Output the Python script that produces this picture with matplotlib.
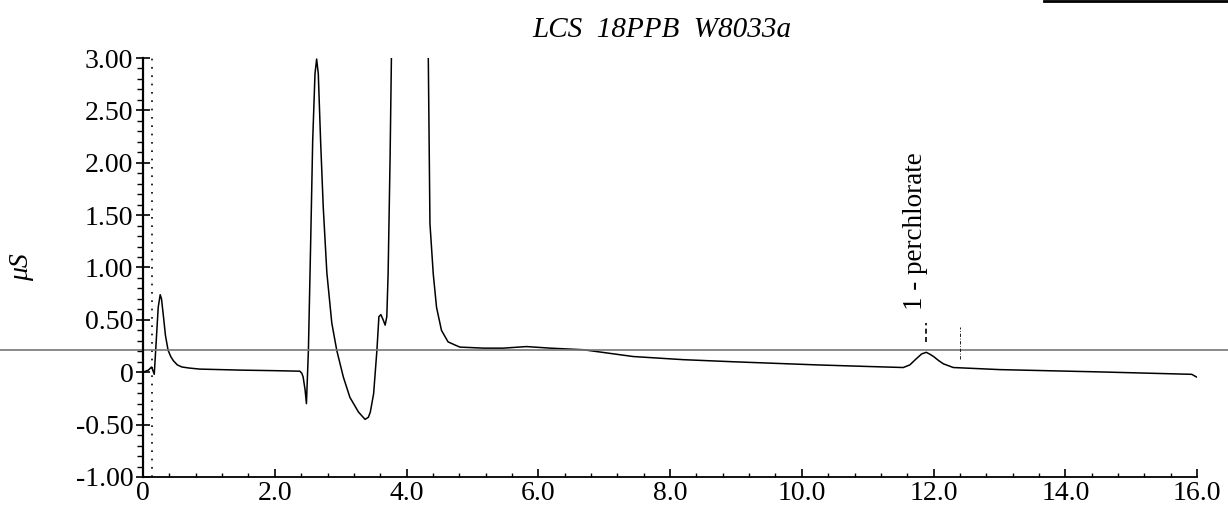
import numpy as np
import matplotlib.pyplot as plt
from matplotlib.lines import Line2D
from matplotlib.ticker import MultipleLocator

# conductivity trace (min, uS)
t = [0.0, 0.08, 0.13, 0.17, 0.20, 0.23, 0.26, 0.28, 0.31, 0.34, 0.38, 0.42, 0.46, 0.52,
     0.59, 0.70, 0.86, 1.5, 2.0, 2.38, 2.41, 2.43, 2.46, 2.48, 2.51, 2.545, 2.575,
     2.61, 2.635, 2.66, 2.695, 2.735, 2.79, 2.865, 2.94, 3.04, 3.14, 3.27, 3.37,
     3.42, 3.45, 3.50, 3.55, 3.58, 3.61, 3.645, 3.675, 3.70, 3.72, 3.75, 3.77, 3.85,
     4.20, 4.33, 4.355, 4.405, 4.455, 4.53, 4.63, 4.735, 4.81, 5.17, 5.47, 5.82,
     6.18, 6.68, 7.44, 8.20, 8.96, 10.23, 11.0, 11.54, 11.64, 11.74, 11.82, 11.89,
     11.95, 12.00, 12.08, 12.15, 12.30, 13.01, 14.53, 15.92, 15.99]
y = [0.0, 0.02, 0.05, -0.02, 0.30, 0.62, 0.74, 0.70, 0.53, 0.35, 0.21, 0.15, 0.11, 0.07,
     0.05, 0.04, 0.03, 0.02, 0.015, 0.01, -0.01, -0.045, -0.17, -0.30, 0.21, 1.26, 2.21,
     2.85, 2.99, 2.85, 2.21, 1.58, 0.95, 0.47, 0.21, -0.045, -0.24, -0.38, -0.45,
     -0.43, -0.38, -0.205, 0.21, 0.53, 0.55, 0.50, 0.45, 0.53, 0.94, 2.05, 3.0, 8.0,
     8.0, 3.0, 1.42, 0.94, 0.62, 0.40, 0.29, 0.26, 0.24, 0.23, 0.23, 0.245,
     0.23, 0.215, 0.15, 0.12, 0.10, 0.07, 0.055, 0.045, 0.07, 0.13, 0.175, 0.19,
     0.17, 0.15, 0.11, 0.08, 0.045, 0.025, 0.003, -0.02, -0.045]

peak_name = "1 - perchlorate"
peak_time = 11.89
peak_end = 12.40
inject_time = 0.14
ref_level = 0.21

x_ticks = [0, 2, 4, 6, 8, 10, 12, 14, 16]
x_labels = ["0", "2.0", "4.0", "6.0", "8.0", "10.0", "12.0", "14.0", "16.0"]
y_ticks = [-1.0, -0.5, 0, 0.5, 1.0, 1.5, 2.0, 2.5, 3.0]
y_labels = ["-1.00", "-0.50", "0", "0.50", "1.00", "1.50", "2.00", "2.50", "3.00"]

plt.rcParams['font.family'] = ['Liberation Serif', 'DejaVu Serif']

fig = plt.figure(figsize=(12.28, 5.12), dpi=100)
ax = fig.add_axes([0.1165, 0.0684, 0.8583, 0.8183])

ax.plot(t, y, color='black', lw=1.1)
ax.axvline(inject_time, color='black', lw=1.2, ls=(0, (1, 4)))
ax.axhline(ref_level, xmin=-0.15, xmax=1.1, clip_on=False, color='#777777', lw=1.2)

# peak markers
ax.plot([peak_time, peak_time], [0.29, 0.47], color='black', lw=1.2, ls=(0, (3, 2)))
ax.plot([peak_end, peak_end], [0.13, 0.43], color='black', lw=0.6, ls=(0, (4, 2, 1, 2)))
ax.text(peak_time - 0.17, 0.59, peak_name, rotation=90, ha='center', va='bottom', fontsize=19.5)

ax.set_xlim(0, 16)
ax.set_ylim(-1, 3)
ax.set_xticks(x_ticks)
ax.set_xticklabels(x_labels)
ax.set_yticks(y_ticks)
ax.set_yticklabels(y_labels)
ax.xaxis.set_minor_locator(MultipleLocator(0.4))
ax.yaxis.set_minor_locator(MultipleLocator(0.1))
ax.tick_params(axis='y', which='major', direction='inout', length=10, width=1.2, labelsize=20, pad=2)
ax.tick_params(axis='y', which='minor', direction='out', length=4, width=1)
ax.tick_params(axis='x', which='major', direction='in', length=6, width=1.2, labelsize=20, pad=3)
ax.tick_params(axis='x', which='minor', direction='in', length=3, width=1)

for s in ['top', 'right']:
    ax.spines[s].set_visible(False)
ax.spines['left'].set_linewidth(1.6)
ax.spines['bottom'].set_linewidth(1.3)

ax.set_ylabel("μS", fontsize=20, labelpad=30, style='italic')
fig.text(0.539, 0.941, "LCS  18PPB  W8033a", ha='center', va='center', fontsize=21, style='italic')

# scan edge at top right
fig.add_artist(Line2D([0.85, 1.0], [0.998, 0.998], color='black', lw=2))

fig.savefig("out.png", dpi=100)
